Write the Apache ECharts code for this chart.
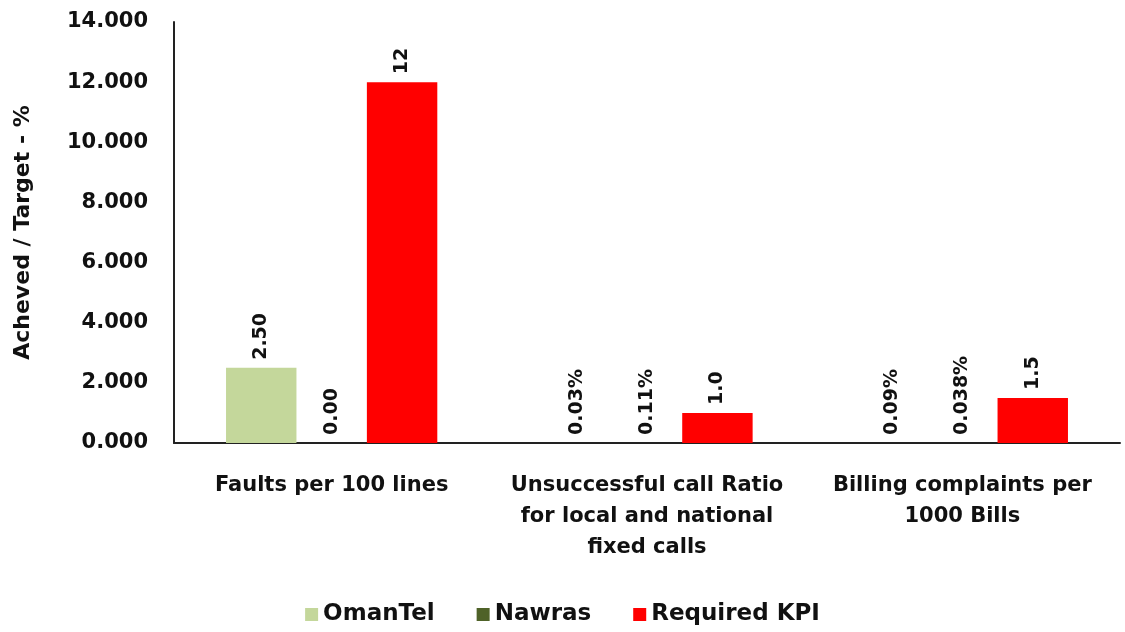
<!DOCTYPE html>
<html>
<head>
<meta charset="utf-8">
<script src="https://cdn.jsdelivr.net/npm/echarts@6/dist/echarts.min.js"></script>
<style>
  html, body { margin: 0; padding: 0; background: #fff; }
  #chart { width: 1125px; height: 632px; }
</style>
</head>
<body>
<div id="chart"></div>
<script>
var categories = [
  'Faults per 100 lines',
  'Unsuccessful call Ratio\nfor local and national\nfixed calls',
  'Billing complaints per\n1000 Bills'
]
// the "%" values are tiny, so they barely show as bars
var omantel = [2.5, 0.0003, 0.0009]
var nawras = [0.0, 0.0011, 0.00038]
var requiredKpi = [12, 1.0, 1.5]
// labels as printed on the chart
var omantelLabels = ['2.50', '0.03%', '0.09%']
var nawrasLabels = ['0.00', '0.11%', '0.038%']
var kpiLabels = ['12', '1.0', '1.5']

var font = '"DejaVu Sans", sans-serif'

function labelOf(texts) {
  return {
    show: true,
    position: 'top',
    rotate: 90,
    align: 'left',
    verticalAlign: 'middle',
    distance: 8,
    fontFamily: font,
    fontWeight: 'bold',
    fontSize: 19,
    color: '#111',
    formatter: function (p) { return texts[p.dataIndex] }
  }
}

var chart = echarts.init(document.getElementById('chart'))
var option = {
  animation: false,
  textStyle: { fontFamily: font },
  legend: {
    bottom: 1,
    left: 'center',
    icon: 'rect',
    itemWidth: 13,
    itemHeight: 13,
    itemGap: 42,
    textStyle: { fontFamily: font, fontWeight: 'bold', fontSize: 23, color: '#111' },
    data: ['OmanTel', 'Nawras', 'Required KPI']
  },
  grid: { left: 174, right: 5, top: 22, bottom: 189, containLabel: false },
  xAxis: {
    type: 'category',
    data: categories,
    axisLine: { lineStyle: { color: '#222', width: 2 } },
    axisTick: { show: false },
    axisLabel: {
      interval: 0,
      margin: 27,
      fontFamily: font,
      fontWeight: 'bold',
      fontSize: 21,
      lineHeight: 31,
      color: '#111'
    }
  },
  yAxis: {
    type: 'value',
    min: 0,
    max: 14,
    interval: 2,
    name: 'Acheved / Target - %',
    nameLocation: 'middle',
    nameGap: 140,
    nameTextStyle: { fontFamily: font, fontWeight: 'bold', fontSize: 22, color: '#111' },
    axisLine: { show: true, lineStyle: { color: '#222', width: 2 } },
    axisTick: { show: false },
    splitLine: { show: false },
    axisLabel: {
      margin: 26,
      fontFamily: font,
      fontWeight: 'bold',
      fontSize: 21,
      color: '#111',
      formatter: function (v) { return v.toFixed(3) }
    }
  },
  series: [
    {
      name: 'OmanTel', type: 'bar', data: omantel,
      barGap: '0%', barCategoryGap: '33%',
      itemStyle: { color: '#c4d79b' },
      label: labelOf(omantelLabels)
    },
    {
      name: 'Nawras', type: 'bar', data: nawras,
      itemStyle: { color: '#4f6228' },
      label: labelOf(nawrasLabels)
    },
    {
      name: 'Required KPI', type: 'bar', data: requiredKpi,
      itemStyle: { color: '#ff0000' },
      label: labelOf(kpiLabels)
    }
  ]
}
chart.setOption(option)
</script>
</body>
</html>
